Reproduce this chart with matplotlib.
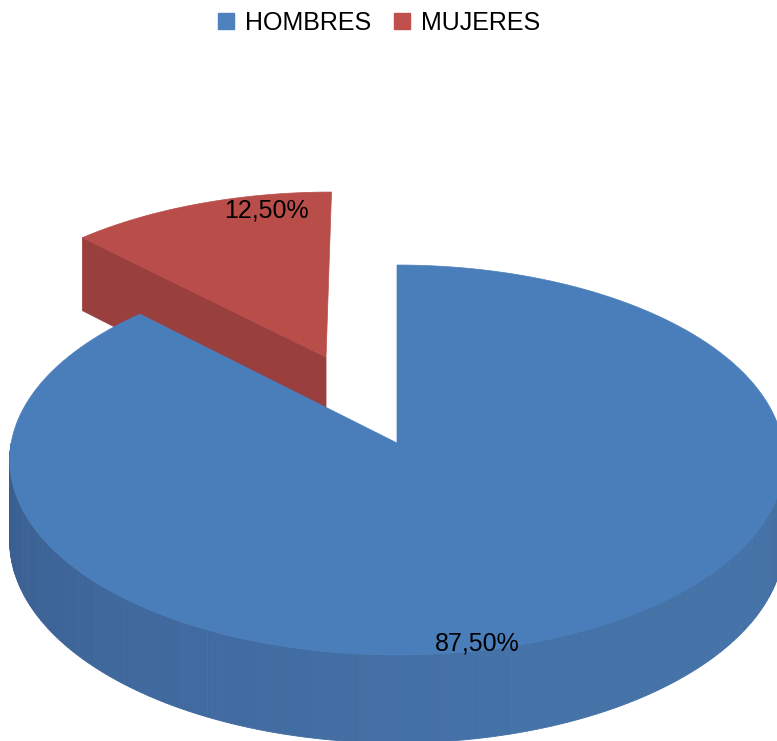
import numpy as np
import matplotlib
matplotlib.use("Agg")
import matplotlib.pyplot as plt
from matplotlib.patches import Polygon, Patch

labels = ['HOMBRES', 'MUJERES']
values = [87.5, 12.5]
pct_text = ['87,50%', '12,50%']
legend_colors = ['#4F81BD', '#C0504D']
top_colors = ['#4A7EBB', '#B94D4A']
side_colors = ['#4470A6', '#993F3D']
explode = [0.0, 0.50]

# perspective of the 3d disc, in pixels
CX, CY = 397, 443
S, SK, D, T = 4437.0, 2225.0, 11.5, 924.0

def proj(X, Y, Z=0.0):
    u = S * X / (D + Y)
    v = (SK * Y + T * Z) / (D + Y)
    return CX + u, CY - v

fig = plt.figure(figsize=(7.77, 7.41), dpi=100)
ax = fig.add_axes([0, 0, 1, 1])
ax.set_xlim(0, 777)
ax.set_ylim(741, 0)
ax.axis('off')

# slices go clockwise from 12 o'clock; stored as (low angle, high angle)
tot = sum(values)
ang = 90.0
wedges = []
for v in values:
    a1 = ang - 360.0 * v / tot
    wedges.append((a1, ang))
    ang = a1

def arc(a0, a1, ox, oy, z=0.0, n=200):
    t = np.radians(np.linspace(a0, a1, n))
    return [proj(ox + np.cos(q), oy + np.sin(q), z) for q in t]

def offset(i):
    a0, a1 = wedges[i]
    m = np.radians((a0 + a1) / 2)
    return explode[i] * np.cos(m), explode[i] * np.sin(m)

# red slice (behind): radial face on its left edge, then top
i = 1
a0, a1 = wedges[i]
ox, oy = offset(i)
e = np.radians(a1)
face = [proj(ox, oy, 0), proj(ox + np.cos(e), oy + np.sin(e), 0),
        proj(ox + np.cos(e), oy + np.sin(e), -1), proj(ox, oy, -1)]
ax.add_patch(Polygon(face, closed=True, fc=side_colors[i], ec=side_colors[i], lw=0.5))
top = [proj(ox, oy, 0)] + arc(a0, a1, ox, oy)
ax.add_patch(Polygon(top, closed=True, fc=top_colors[i], ec=top_colors[i], lw=0.5))

# blue slice: front side in thin strips, shaded by angle
i = 0
a0, a1 = wedges[i]
ox, oy = offset(i)
stops_a = [180, 230, 290, 330, 360]
stops_c = [(0.22, 0.36, 0.55), (0.25, 0.41, 0.62), (0.27, 0.45, 0.66),
           (0.27, 0.45, 0.66), (0.25, 0.42, 0.62)]
th = np.linspace(-180, 0, 241)
segs = []
for k in range(len(th) - 1):
    t0, t1 = np.radians(th[k]), np.radians(th[k + 1])
    mid = (th[k] + th[k + 1]) / 2
    col = [np.interp(mid + 360, stops_a, [c[j] for c in stops_c]) for j in range(3)]
    q = [proj(ox + np.cos(t0), oy + np.sin(t0), 0), proj(ox + np.cos(t1), oy + np.sin(t1), 0),
         proj(ox + np.cos(t1), oy + np.sin(t1), -1), proj(ox + np.cos(t0), oy + np.sin(t0), -1)]
    segs.append((np.sin(np.radians(mid)), q, col))
for _, q, col in sorted(segs, key=lambda s: -s[0]):
    ax.add_patch(Polygon(q, closed=True, fc=col, ec=col, lw=0.6))

top = [proj(ox, oy, 0)] + arc(a0, a1, ox, oy)
ax.add_patch(Polygon(top, closed=True, fc=top_colors[i], ec=top_colors[i], lw=0.5))

# data labels (polar position inside each slice)
lab_pos = [(0.97, -78.7), (0.90, 102.0)]
for i in range(2):
    ox, oy = offset(i)
    r, a = lab_pos[i]
    x, y = proj(ox + r * np.cos(np.radians(a)), oy + r * np.sin(np.radians(a)))
    ax.text(x, y, pct_text[i], ha='center', va='center', fontsize=18,
            family='Liberation Sans', color='black')

handles = [Patch(fc=c, ec=c) for c in legend_colors]
fig.legend(handles, labels, loc='upper center', bbox_to_anchor=(0.488, 1.016), ncol=2,
           frameon=False, prop={'family': 'Liberation Sans', 'size': 18},
           handlelength=0.65, handleheight=0.65, handletextpad=0.45, columnspacing=0.9)

fig.savefig('out.png', dpi=100)
